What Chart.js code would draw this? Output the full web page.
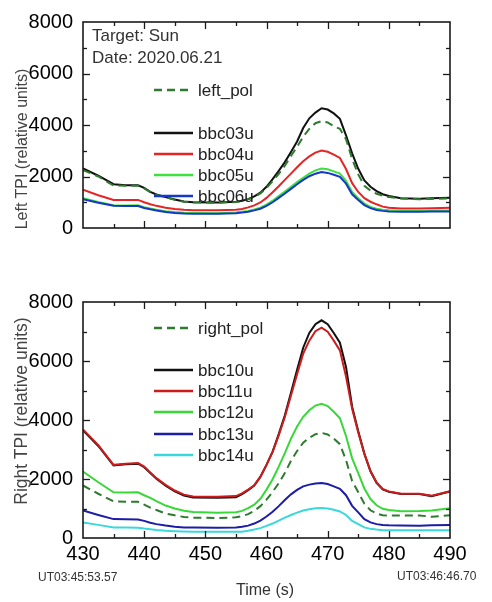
<!DOCTYPE html>
<html><head><meta charset="utf-8">
<script src="https://cdn.jsdelivr.net/npm/chart.js@4/dist/chart.umd.min.js"></script>
<style>
html,body{margin:0;padding:0;background:#fff;}
body{width:492px;height:602px;position:relative;overflow:hidden;font-family:"Liberation Sans",Arial,sans-serif;}
canvas{position:absolute;left:0;}
#c1{top:0}
#c2{top:280px}
.t{position:absolute;white-space:nowrap;line-height:1;}
.ytitle{transform:translate(-50%,-50%) rotate(-90deg);color:#444;}
</style></head><body>
<canvas id="c1" width="492" height="280"></canvas>
<canvas id="c2" width="492" height="322"></canvas>
<div class="t ytitle" style="left:22px;top:149px;font-size:16px">Left TPI (relative units)</div>
<div class="t ytitle" style="left:22px;top:411px;font-size:17.5px">Right TPI (relative units)</div>
<div class="t" style="left:92px;top:27px;font-size:17px;color:#333">Target: Sun</div>
<div class="t" style="left:92px;top:49px;font-size:17px;color:#333">Date: 2020.06.21</div>
<div class="t" style="left:38px;top:571px;font-size:12px;color:#333">UT03:45:53.57</div>
<div class="t" style="left:397px;top:570px;font-size:12px;color:#333">UT03:46:46.70</div>
<div class="t" style="left:236px;top:582px;font-size:16px;color:#333">Time (s)</div>
<script>
// ---- data ----
const time = [430, 432.5, 435, 437, 439, 440, 441, 442, 443.5, 445, 446.5, 448, 452, 455, 456, 457, 458, 459, 460, 461, 462, 463, 464, 465, 466, 467, 468, 469, 470, 471, 472, 473, 474, 475, 476, 477, 478, 479, 480, 482, 485, 487, 490];
const xTickValues = [430, 440, 450, 460, 470, 480, 490];
const yTickValues = [0, 2000, 4000, 6000, 8000];

// Left polarization panel
const leftPol = [2250,2000,1650,1640,1640,1540,1390,1290,1190,1100,1020,990,980,1010,1050,1110,1210,1340,1550,1820,2100,2420,2800,3150,3550,3850,4070,4150,4100,3950,3850,3450,2680,2080,1640,1450,1330,1260,1200,1150,1120,1130,1150];
const bbc03u = [2315,2030,1700,1665,1660,1560,1400,1300,1200,1110,1030,1000,990,1020,1060,1120,1230,1370,1600,1900,2220,2560,2950,3360,3880,4260,4480,4650,4600,4450,4240,3600,2900,2300,1850,1600,1430,1310,1240,1160,1140,1160,1170];
const bbc04u = [1490,1270,1090,1085,1090,1000,920,860,790,740,705,690,685,710,740,800,880,990,1170,1390,1620,1870,2110,2360,2590,2780,2930,3010,2960,2850,2720,2290,1740,1400,1160,1020,920,830,790,760,760,770,790];
const bbc05u = [1160,1010,880,875,880,810,755,710,655,620,595,585,575,600,630,665,720,790,910,1060,1240,1420,1600,1780,1950,2110,2240,2310,2280,2200,2110,1830,1400,1160,950,820,750,710,690,675,670,675,680];
const bbc06u = [1120,980,860,850,855,780,725,680,620,585,565,558,552,575,600,635,685,750,860,1000,1170,1340,1520,1700,1870,2010,2110,2170,2140,2070,1990,1720,1310,1090,890,770,700,665,645,630,630,640,645];

// Right polarization panel
const rightPol = [1780,1500,1240,1230,1225,1130,1030,950,830,770,710,690,680,700,740,810,920,1080,1300,1560,1860,2200,2620,2950,3230,3400,3520,3565,3510,3370,3180,2640,1930,1550,1160,940,830,770,765,765,765,720,770];
const bbc10u = [3650,3120,2460,2500,2520,2400,2200,2010,1770,1580,1440,1370,1365,1380,1490,1620,1780,2070,2480,2930,3520,4160,4920,5700,6450,6950,7250,7380,7250,6950,6620,5800,4450,3620,2860,2260,1870,1650,1570,1490,1490,1420,1580];
const bbc11u = [3680,3150,2480,2520,2540,2420,2220,2030,1800,1610,1470,1405,1400,1420,1510,1640,1790,2080,2480,2920,3480,4100,4830,5550,6250,6690,7010,7130,6990,6690,6360,5470,4380,3580,2850,2270,1880,1660,1580,1500,1500,1430,1590];
const bbc12u = [2250,1890,1550,1545,1550,1450,1360,1250,1100,1000,925,880,855,870,920,1010,1130,1330,1640,1990,2420,2880,3370,3780,4110,4330,4490,4550,4470,4280,4060,3460,2700,2200,1680,1320,1110,990,950,910,915,930,1010];
const bbc13u = [930,780,640,635,630,580,520,470,420,385,360,355,350,360,380,420,490,590,730,890,1080,1290,1480,1630,1750,1810,1850,1865,1830,1750,1670,1450,1090,870,640,530,470,440,430,420,415,430,440];
const bbc14u = [530,445,360,355,350,320,295,270,245,230,220,212,208,208,215,245,285,335,410,490,590,690,780,860,930,975,1005,1020,1000,960,900,780,580,470,360,310,285,265,262,260,260,265,265];

// ---- helpers ----
const pts = vals => time.map((t, i) => ({x: t, y: vals[i]}));
function ds(label, vals, color, order, dashed) {
  return {label, data: pts(vals), borderColor: color, backgroundColor: color,
    borderWidth: 2, pointRadius: 0, tension: 0, order, borderDash: dashed ? [8, 5] : []};
}

const framePlugin = {
  id: 'frame',
  afterDatasetsDraw(chart, args, o) {
    const {ctx, chartArea: a, scales: {x, y}} = chart;
    ctx.save();
    ctx.strokeStyle = '#1a1a1a';
    ctx.lineWidth = 1.6;
    ctx.strokeRect(a.left, a.top, a.right - a.left, a.bottom - a.top);
    ctx.lineWidth = 1.3;
    const seg = (x1, y1, x2, y2) => { ctx.beginPath(); ctx.moveTo(x1, y1); ctx.lineTo(x2, y2); ctx.stroke(); };
    for (let v = x.min + o.xMinor; v < x.max; v += o.xMinor) {
      const p = Math.round(x.getPixelForValue(v)) + 0.5;
      const L = (Math.abs((v - x.min) % o.xMajor) < 1e-6) ? o.major : o.minor;
      seg(p, a.bottom, p, a.bottom - L);
      seg(p, a.top, p, a.top + L);
    }
    for (let v = y.min + o.yMinor; v < y.max; v += o.yMinor) {
      const p = Math.round(y.getPixelForValue(v)) + 0.5;
      const L = (Math.abs((v - y.min) % o.yMajor) < 1e-6) ? o.major : o.minor;
      seg(a.left, p, a.left + L, p);
      seg(a.right, p, a.right - L, p);
    }
    ctx.restore();
  }
};

const legendPlugin = {
  id: 'customLegend',
  afterDraw(chart, args, o) {
    const {ctx} = chart;
    ctx.save();
    ctx.font = o.font;
    ctx.textBaseline = 'middle';
    ctx.fillStyle = o.color;
    o.items.forEach(it => {
      const d = chart.data.datasets.find(s => s.label === it.label);
      ctx.strokeStyle = d.borderColor;
      ctx.lineWidth = 2.5;
      ctx.setLineDash(d.borderDash || []);
      ctx.beginPath(); ctx.moveTo(o.x0, it.y); ctx.lineTo(o.x1, it.y); ctx.stroke();
      ctx.setLineDash([]);
      ctx.fillText(d.label, o.tx, it.y + 1);
    });
    ctx.restore();
  }
};

const plain = v => String(v);

function makeChart(id, datasets, showX, pad, legendItems) {
  return new Chart(document.getElementById(id), {
    type: 'line',
    data: {datasets},
    options: {
      responsive: false, animation: false, devicePixelRatio: 1,
      layout: {padding: pad},
      plugins: {
        legend: {display: false}, tooltip: {enabled: false},
        frame: {xMinor: 5, xMajor: 10, yMinor: 1000, yMajor: 2000, major: 7, minor: 4},
        customLegend: {items: legendItems, x0: 154, x1: 193, tx: 198,
          font: '17px "Liberation Sans", Arial, sans-serif', color: '#222'}
      },
      scales: {
        x: {type: 'linear', min: 430, max: 490, display: showX,
          afterBuildTicks: s => { s.ticks = xTickValues.map(v => ({value: v})); },
          grid: {display: false, drawTicks: false}, border: {display: false},
          ticks: {font: {size: 20, family: '"Liberation Sans", Arial, sans-serif'}, color: '#000', padding: 4, maxRotation: 0, autoSkip: false, callback: plain},
          afterFit: s => { s.height = 30; }},
        y: {type: 'linear', min: 0, max: 8000,
          afterBuildTicks: s => { s.ticks = yTickValues.map(v => ({value: v})); },
          grid: {display: false, drawTicks: false}, border: {display: false},
          ticks: {font: {size: 20, family: '"Liberation Sans", Arial, sans-serif'}, color: '#000', padding: 10, callback: plain},
          afterFit: s => { s.width = 83; }}
      }
    },
    plugins: [framePlugin, legendPlugin]
  });
}

makeChart('c1', [
  ds('left_pol', leftPol, '#2f7a2f', 0, true),
  ds('bbc06u', bbc06u, '#1538c8', 1),
  ds('bbc05u', bbc05u, '#3ee03e', 2),
  ds('bbc04u', bbc04u, '#e42525', 3),
  ds('bbc03u', bbc03u, '#111111', 4)
], false, {top: 15, right: 42, left: 0, bottom: 22}, [
  {label: 'left_pol', y: 90}, {label: 'bbc03u', y: 133}, {label: 'bbc04u', y: 154},
  {label: 'bbc05u', y: 175}, {label: 'bbc06u', y: 196}
]);

makeChart('c2', [
  ds('right_pol', rightPol, '#2f7a2f', 0, true),
  ds('bbc14u', bbc14u, '#3ad8dc', 1),
  ds('bbc13u', bbc13u, '#1c1ca8', 2),
  ds('bbc12u', bbc12u, '#38d838', 3),
  ds('bbc11u', bbc11u, '#cc1c1c', 4),
  ds('bbc10u', bbc10u, '#111111', 5)
], true, {top: 15, right: 42, left: 0, bottom: 34}, [
  {label: 'right_pol', y: 48}, {label: 'bbc10u', y: 90}, {label: 'bbc11u', y: 111},
  {label: 'bbc12u', y: 132}, {label: 'bbc13u', y: 154}, {label: 'bbc14u', y: 175}
]);
</script>
</body></html>
